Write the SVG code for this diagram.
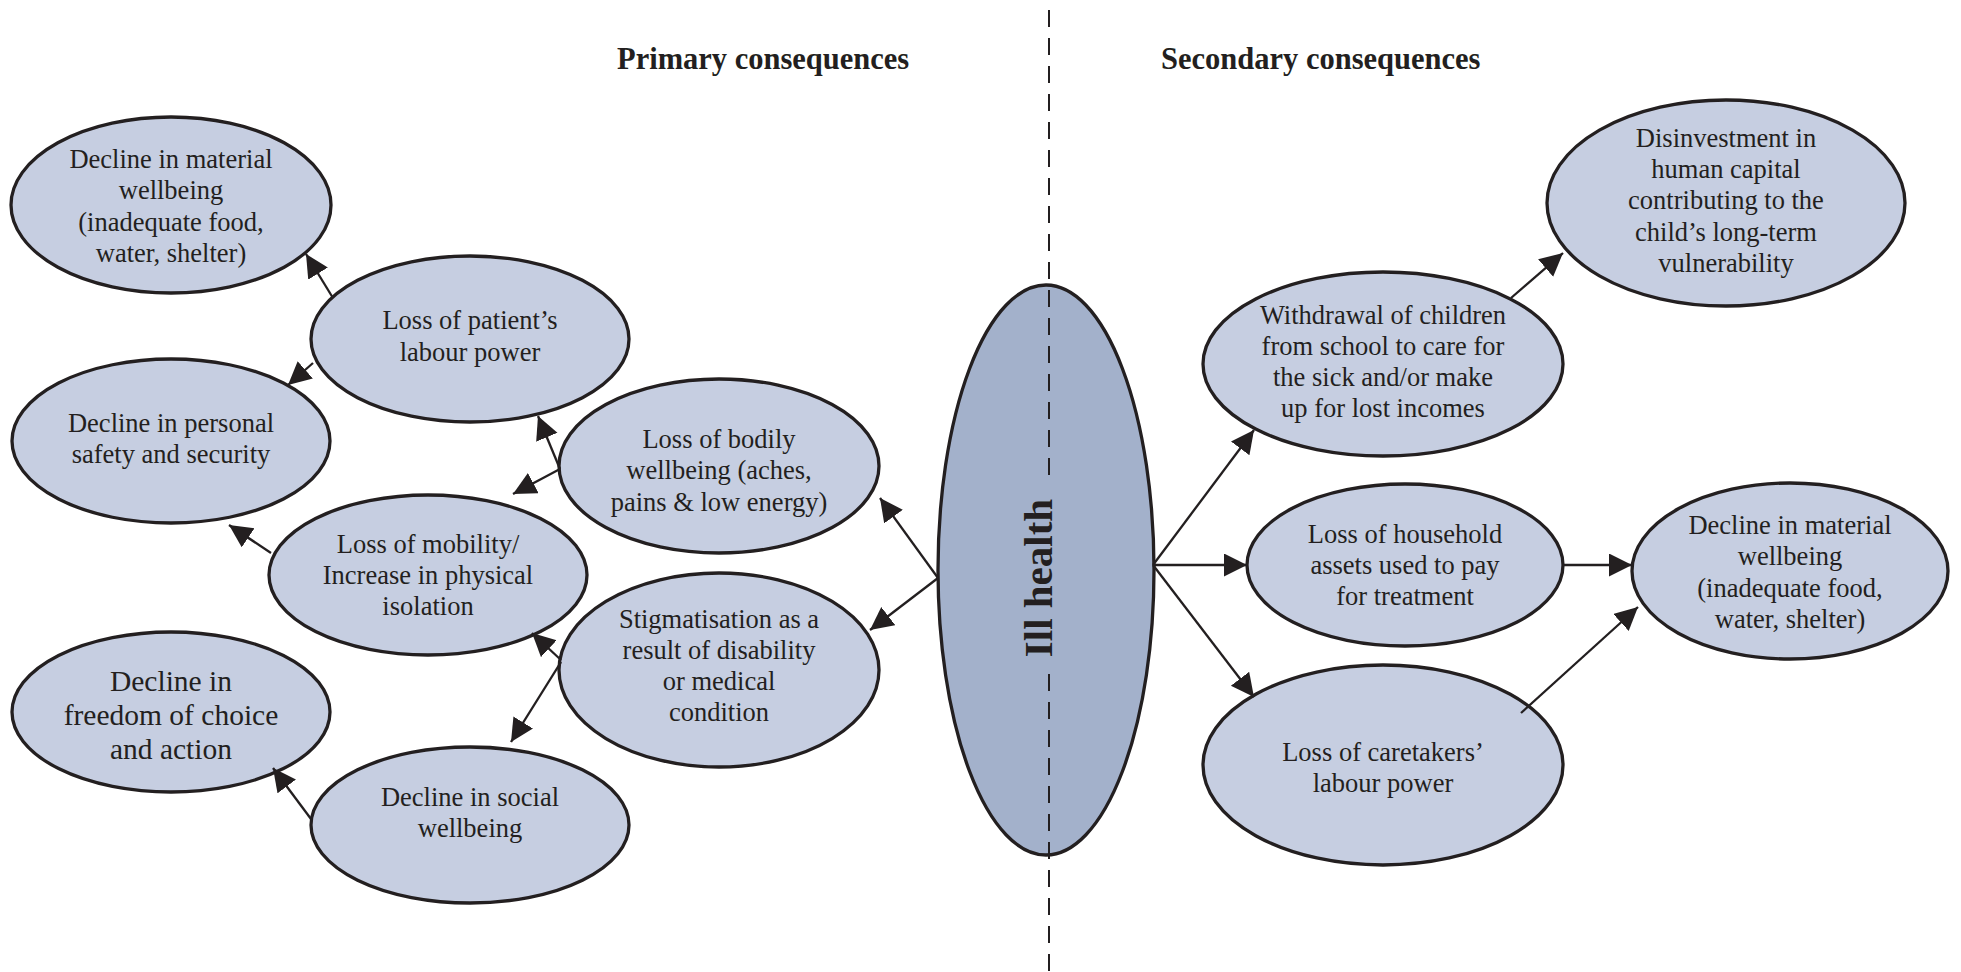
<svg xmlns="http://www.w3.org/2000/svg" width="1961" height="972" viewBox="0 0 1961 972">
  <style>
    .node { fill: #c6cee1; stroke: #231f20; stroke-width: 3.3; }
    .core { fill: #a3b1cb; stroke: #231f20; stroke-width: 3.3; }
    .lbl { font-family: "Liberation Serif", "Times New Roman", serif; font-size: 26.5px; fill: #231f20; text-anchor: middle; }
    .big { font-size: 29.5px; }
    .head { font-family: "Liberation Serif", "Times New Roman", serif; font-size: 30.5px; font-weight: bold; fill: #231f20; }
    .core-lbl { font-family: "Liberation Serif", "Times New Roman", serif; font-size: 41px; font-weight: bold; fill: #231f20; text-anchor: middle; }
    .edge { stroke: #231f20; stroke-width: 2.3; fill: none; marker-end: url(#arrow); }
    .divider { stroke: #231f20; stroke-width: 2; stroke-dasharray: 17 11; }
  </style>
  <defs>
    <marker id="arrow" markerUnits="userSpaceOnUse" markerWidth="25" markerHeight="25" refX="23" refY="11.5" orient="auto">
      <path d="M0,0 L23,11.5 L0,23 z" fill="#231f20"/>
    </marker>
  </defs>

  <rect width="1961" height="972" fill="#ffffff"/>

  <!-- column headings -->
  <text class="head" x="617" y="69">Primary consequences</text>
  <text class="head" x="1161" y="69">Secondary consequences</text>

  <!-- central node -->
  <g id="ill-health">
    <ellipse class="core" cx="1046" cy="570" rx="108" ry="285"/>
  </g>

  <!-- dividing line between the two columns -->
  <g id="divider">
    <line class="divider" x1="1049" y1="10" x2="1049" y2="476"/>
    <line class="divider" x1="1049" y1="674" x2="1049" y2="972"/>
  </g>
  <text class="core-lbl" transform="translate(1052,578) rotate(-90)">Ill health</text>

  <!-- primary consequences -->
  <g id="material-left">
    <ellipse class="node" cx="171" cy="205" rx="160" ry="88"/>
    <text class="lbl" x="171" y="168">Decline in material</text>
    <text class="lbl" x="171" y="199">wellbeing</text>
    <text class="lbl" x="171" y="231">(inadequate food,</text>
    <text class="lbl" x="171" y="262">water, shelter)</text>
  </g>
  <g id="patient-labour">
    <ellipse class="node" cx="470" cy="339" rx="159" ry="83"/>
    <text class="lbl" x="470" y="329">Loss of patient’s</text>
    <text class="lbl" x="470" y="361">labour power</text>
  </g>
  <g id="personal-safety">
    <ellipse class="node" cx="171" cy="441" rx="159" ry="82"/>
    <text class="lbl" x="171" y="432">Decline in personal</text>
    <text class="lbl" x="171" y="463">safety and security</text>
  </g>
  <g id="bodily-wellbeing">
    <ellipse class="node" cx="719" cy="466" rx="160" ry="87"/>
    <text class="lbl" x="719" y="448">Loss of bodily</text>
    <text class="lbl" x="719" y="479">wellbeing (aches,</text>
    <text class="lbl" x="719" y="511">pains &amp; low energy)</text>
  </g>
  <g id="mobility">
    <ellipse class="node" cx="428" cy="575" rx="159" ry="80"/>
    <text class="lbl" x="428" y="553">Loss of mobility/</text>
    <text class="lbl" x="428" y="584">Increase in physical</text>
    <text class="lbl" x="428" y="615">isolation</text>
  </g>
  <g id="stigmatisation">
    <ellipse class="node" cx="719" cy="670" rx="160" ry="97"/>
    <text class="lbl" x="719" y="628">Stigmatisation as a</text>
    <text class="lbl" x="719" y="659">result of disability</text>
    <text class="lbl" x="719" y="690">or medical</text>
    <text class="lbl" x="719" y="721">condition</text>
  </g>
  <g id="freedom">
    <ellipse class="node" cx="171" cy="712" rx="159" ry="80"/>
    <text class="lbl big" x="171" y="691">Decline in</text>
    <text class="lbl big" x="171" y="725">freedom of choice</text>
    <text class="lbl big" x="171" y="759">and action</text>
  </g>
  <g id="social-wellbeing">
    <ellipse class="node" cx="470" cy="825" rx="159" ry="78"/>
    <text class="lbl" x="470" y="806">Decline in social</text>
    <text class="lbl" x="470" y="837">wellbeing</text>
  </g>

  <!-- secondary consequences -->
  <g id="withdrawal">
    <ellipse class="node" cx="1383" cy="364" rx="180" ry="92"/>
    <text class="lbl" x="1383" y="324">Withdrawal of children</text>
    <text class="lbl" x="1383" y="355">from school to care for</text>
    <text class="lbl" x="1383" y="386">the sick and/or make</text>
    <text class="lbl" x="1383" y="417">up for lost incomes</text>
  </g>
  <g id="disinvestment">
    <ellipse class="node" cx="1726" cy="203" rx="179" ry="103"/>
    <text class="lbl" x="1726" y="147">Disinvestment in</text>
    <text class="lbl" x="1726" y="178">human capital</text>
    <text class="lbl" x="1726" y="209">contributing to the</text>
    <text class="lbl" x="1726" y="241">child’s long-term</text>
    <text class="lbl" x="1726" y="272">vulnerability</text>
  </g>
  <g id="household-assets">
    <ellipse class="node" cx="1405" cy="565" rx="158" ry="81"/>
    <text class="lbl" x="1405" y="543">Loss of household</text>
    <text class="lbl" x="1405" y="574">assets used to pay</text>
    <text class="lbl" x="1405" y="605">for treatment</text>
  </g>
  <g id="material-right">
    <ellipse class="node" cx="1790" cy="571" rx="158" ry="88"/>
    <text class="lbl" x="1790" y="534">Decline in material</text>
    <text class="lbl" x="1790" y="565">wellbeing</text>
    <text class="lbl" x="1790" y="597">(inadequate food,</text>
    <text class="lbl" x="1790" y="628">water, shelter)</text>
  </g>
  <g id="caretakers-labour">
    <ellipse class="node" cx="1383" cy="765" rx="180" ry="100"/>
    <text class="lbl" x="1383" y="761">Loss of caretakers’</text>
    <text class="lbl" x="1383" y="792">labour power</text>
  </g>

  <!-- connectors -->
  <g id="connectors">
    <line class="edge" x1="333" y1="298" x2="306" y2="254"/>
    <line class="edge" x1="313" y1="363" x2="288" y2="385"/>
    <line class="edge" x1="560" y1="469" x2="538" y2="416"/>
    <line class="edge" x1="560" y1="469" x2="513" y2="494"/>
    <line class="edge" x1="271" y1="553" x2="229" y2="525"/>
    <line class="edge" x1="561" y1="660" x2="532" y2="633"/>
    <line class="edge" x1="561" y1="662" x2="511" y2="742"/>
    <line class="edge" x1="311" y1="819" x2="273" y2="768"/>
    <line class="edge" x1="938" y1="578" x2="880" y2="498"/>
    <line class="edge" x1="938" y1="578" x2="870" y2="630"/>
    <line class="edge" x1="1153" y1="565" x2="1254" y2="430"/>
    <line class="edge" x1="1153" y1="565" x2="1247" y2="565"/>
    <line class="edge" x1="1153" y1="565" x2="1254" y2="697"/>
    <line class="edge" x1="1511" y1="298" x2="1563" y2="253"/>
    <line class="edge" x1="1563" y1="565" x2="1632" y2="565"/>
    <line class="edge" x1="1521" y1="713" x2="1638" y2="607"/>
  </g>
</svg>
